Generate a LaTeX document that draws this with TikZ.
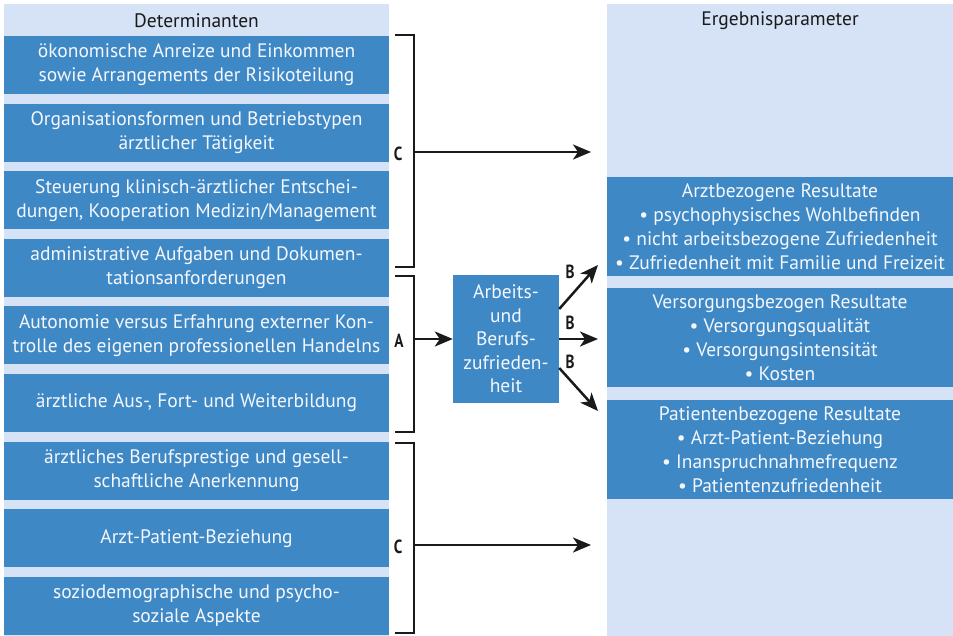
\documentclass[tikz,border=0pt]{standalone}
\usepackage{fontspec}
\setmainfont{PT Sans}
\newfontfamily\schmalfont[FakeStretch=0.8]{PT Sans}
\usetikzlibrary{arrows.meta}
\definecolor{boxblue}{HTML}{3F88C6}
\definecolor{bgblue}{HTML}{D6E2F5}
\definecolor{boxtext}{HTML}{F4F7FC}
\definecolor{ink}{HTML}{1A1A1A}
\tikzset{
 det/.style={fill=boxblue,text=boxtext,minimum width=385pt,minimum height=58pt,inner sep=0pt,align=center,font=\fontsize{19.5}{24}\selectfont},
 res/.style={det,minimum width=346pt,minimum height=99pt},
 kopf/.style={text=ink,inner sep=0pt,font=\fontsize{19.5}{24}\selectfont},
 klammer/.style={line width=2.5pt,ink},
 pfeil/.style={line width=2.5pt,ink,-{Stealth[length=18pt,width=15pt,inset=5pt]}},
 buchst/.style={text=ink,inner sep=0pt,font=\fontsize{19}{19}\schmalfont\bfseries}
}
\begin{document}
\begin{tikzpicture}[x=1pt,y=-1pt]
\useasboundingbox (0,0) rectangle (953,636);
\pgfmathsetmacro{\dy}{67.6}
% Spalten
\fill[bgblue] (4,4) rectangle (389,636);
\fill[bgblue] (607,4) rectangle (953,636);
\node[kopf] (hl) at (196.5,21) {Determinanten};
\node[kopf] (hr) at (780,21) {Ergebnisparameter};
% Determinanten
\foreach \t [count=\i] in {{ökonomische Anreize und Einkommen\\sowie Arrangements der Risikoteilung},{Organisationsformen und Betriebstypen\\ärztlicher Tätigkeit},{Steuerung klinisch-ärztlicher Entschei-\\dungen, Kooperation Medizin/Management},{administrative Aufgaben und Dokumen-\\tationsanforderungen},{Autonomie versus Erfahrung externer Kon-\\trolle des eigenen professionellen Handelns},{ärztliche Aus-, Fort- und Weiterbildung},{ärztliches Berufsprestige und gesell-\\schaftliche Anerkennung},{Arzt-Patient-Beziehung},{soziodemographische und psycho-\\soziale Aspekte}}{\pgfmathsetmacro{\y}{65+(\i-1)*\dy}\node[det] (d\i) at (196.5,\y) {\t};}
% Ergebnisparameter
\node[res] (r1) at (780,226.5) {Arztbezogene Resultate\\• psychophysisches Wohlbefinden\\• nicht arbeitsbezogene Zufriedenheit\\• Zufriedenheit mit Familie und Freizeit};
\node[res] (r2) at (780,337.5) {Versorgungsbezogen Resultate\\• Versorgungsqualität\\• Versorgungsintensität\\• Kosten};
\node[res] (r3) at (780,449.5) {Patientenbezogene Resultate\\• Arzt-Patient-Beziehung\\• Inanspruchnahmefrequenz\\• Patientenzufriedenheit};
\node[det,minimum width=106pt,minimum height=128pt,font=\fontsize{19.5}{23.5}\selectfont] (az) at (506,339) {Arbeits-\\und\\Berufs-\\zufrieden-\\heit};
% Klammern
\draw[klammer] (395,35) -| (414,267) -- (395,267);
\draw[klammer] (395,276) -| (414,432) -- (395,432);
\draw[klammer] (395,443) -| (414,633) -- (395,633);
\coordinate (c1) at (414,152); \coordinate (c1e) at (591,152);
\coordinate (c2) at (414,545); \coordinate (c2e) at (591,545);
\coordinate (a) at (414,339);
\coordinate (b1) at (598,265); \coordinate (b2) at (598,339); \coordinate (b3) at (598,411);
\draw[pfeil] (c1) -- (c1e);
\draw[pfeil] (c2) -- (c2e);
\draw[pfeil] (a) -- (az.west);
\draw[pfeil] ([yshift=30pt]az.east) -- (b1);
\draw[pfeil] (az.east) -- (b2);
\draw[pfeil] ([yshift=-29pt]az.east) -- (b3);
\node[buchst] (lc1) at (398,154) {C};
\node[buchst] (lc2) at (398,547) {C};
\node[buchst] (la) at (399,341) {A};
\foreach \y [count=\i] in {272,323,362}{\node[buchst] (lb\i) at (570,\y) {B};}
\end{tikzpicture}
\end{document}
